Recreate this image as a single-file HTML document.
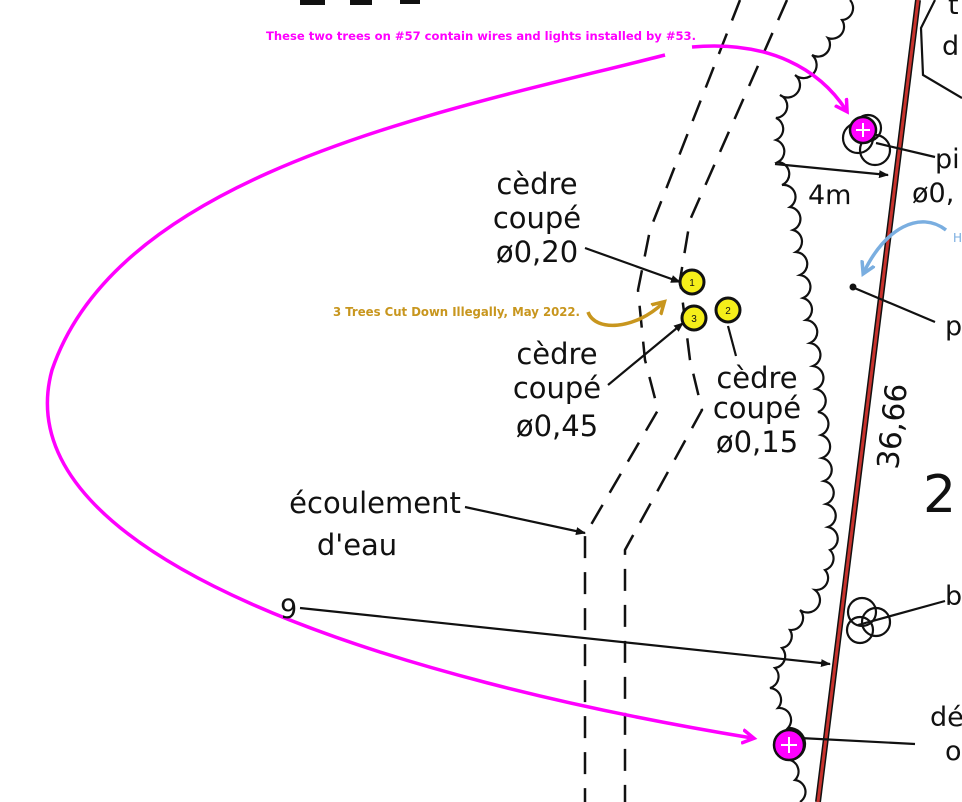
<!DOCTYPE html>
<html><head><meta charset="utf-8"><style>
html,body{margin:0;padding:0;background:#fff;}
svg{display:block;}
.t{font-family:"DejaVu Sans","Liberation Sans",sans-serif;fill:#111;}
</style></head><body>
<svg width="962" height="802" viewBox="0 0 962 802" xmlns="http://www.w3.org/2000/svg">
<defs>
<marker id="ab" markerWidth="10" markerHeight="8" refX="9" refY="4" orient="auto" markerUnits="userSpaceOnUse"><path d="M0,0 L10,4 L0,8 Z" fill="#111"/></marker>
<marker id="am" markerWidth="18" markerHeight="16" refX="10" refY="8" orient="auto" markerUnits="userSpaceOnUse"><path d="M0,1 L12,8 L0,15" fill="none" stroke="#f0f" stroke-width="3.5"/></marker>
<marker id="ag" markerWidth="18" markerHeight="16" refX="10" refY="8" orient="auto" markerUnits="userSpaceOnUse"><path d="M0,1 L12,8 L0,15" fill="none" stroke="#c8961e" stroke-width="3.5"/></marker>
<marker id="al" markerWidth="18" markerHeight="16" refX="10" refY="8" orient="auto" markerUnits="userSpaceOnUse"><path d="M0,1 L12,8 L0,15" fill="none" stroke="#7aaee0" stroke-width="3.5"/></marker>
</defs>
<rect x="300" y="0" width="25" height="5" fill="#111"/><rect x="350" y="0" width="22" height="5" fill="#111"/><rect x="400" y="0" width="20" height="4" fill="#111"/>
<g fill="none" stroke="#111" stroke-width="2.5" stroke-dasharray="22,14">
<path d="M740,0 L650,230 L638,290 L645,360 L658,410 L585,535 L585,802"/>
<path d="M787,0 L690,220 L680,280 L690,360 L702,410 L625,550 L625,802"/>
</g>
<path fill="none" stroke="#111" stroke-width="2.2" d="M850,0 A12 12 0 0 1 842,20 A12 12 0 0 1 828,38 A12 12 0 0 1 812,55 A12 12 0 0 1 795,75 A12 12 0 0 1 780,95 A12 12 0 0 1 776,118 A12 12 0 0 1 776,140 A12 12 0 0 1 778,162 A12 12 0 0 1 782,185 A12 12 0 0 1 790,207 A12 12 0 0 1 793,230 A12 12 0 0 1 796,252 A12 12 0 0 1 800,275 A12 12 0 0 1 803,298 A12 12 0 0 1 806,320 A12 12 0 0 1 810,343 A12 12 0 0 1 813,366 A12 12 0 0 1 816,389 A12 12 0 0 1 818,412 A12 12 0 0 1 821,435 A12 12 0 0 1 822,458 A12 12 0 0 1 824,481 A12 12 0 0 1 826,504 A12 12 0 0 1 828,527 A12 12 0 0 1 830,550 A12 12 0 0 1 825,570 A12 12 0 0 1 815,590 A12 12 0 0 1 800,610 A12 12 0 0 1 790,630 A12 12 0 0 1 782,648 A12 12 0 0 1 775,668 A12 12 0 0 1 770,688 A12 12 0 0 1 778,708 A12 12 0 0 1 788,728 A12 12 0 0 1 790,760 A12 12 0 0 1 795,780 A12 12 0 0 1 800,802"/>
<path d="M935,0 L921,28 L923,75 L962,98" fill="none" stroke="#111" stroke-width="2.2"/>
<line x1="918" y1="0" x2="818" y2="802" stroke="#111" stroke-width="6"/>
<line x1="918" y1="0" x2="818" y2="802" stroke="#c8322d" stroke-width="3"/>
<g stroke="#111" stroke-width="2.2" fill="none">
<line x1="585" y1="248" x2="680" y2="282" marker-end="url(#ab)"/>
<line x1="608" y1="385" x2="683" y2="323" marker-end="url(#ab)"/>
<line x1="736" y1="356" x2="728" y2="326"/>
<line x1="465" y1="507" x2="585" y2="533" marker-end="url(#ab)"/>
<line x1="300" y1="608" x2="830" y2="664" marker-end="url(#ab)"/>
<line x1="775" y1="164" x2="888" y2="175" marker-end="url(#ab)"/>
<line x1="935" y1="157" x2="876" y2="143"/>
<line x1="852" y1="287" x2="935" y2="322"/>
<line x1="945" y1="601" x2="858" y2="625"/>
<line x1="915" y1="744" x2="800" y2="738"/>
</g>
<circle cx="853" cy="287" r="3.5" fill="#111"/>
<g fill="none" stroke="#111" stroke-width="2.2">
<circle cx="858" cy="138" r="15"/><circle cx="875" cy="150" r="15"/><circle cx="868" cy="128" r="13"/>
<circle cx="862" cy="612" r="14"/><circle cx="860" cy="630" r="13"/><circle cx="876" cy="622" r="14"/>
</g>
<g stroke="#111" stroke-width="3" fill="#f5ee1a">
<circle cx="692" cy="282" r="12"/><circle cx="728" cy="310" r="12"/><circle cx="694" cy="318" r="12"/>
</g>
<g font-family="Liberation Sans,sans-serif" font-size="10" fill="#111" text-anchor="middle">
<text x="692" y="286">1</text><text x="728" y="314">2</text><text x="694" y="322">3</text>
</g>
<g stroke="#111" stroke-width="2.5" fill="#f0f">
<circle cx="863" cy="130" r="13"/><circle cx="789" cy="745" r="15"/>
</g>
<g stroke="#fff" stroke-width="2">
<line x1="856" y1="130" x2="870" y2="130"/><line x1="863" y1="123" x2="863" y2="137"/>
<line x1="781" y1="745" x2="797" y2="745"/><line x1="789" y1="737" x2="789" y2="753"/>
</g>
<path d="M665,55 C450,110 120,170 52,370 C0,560 400,680 752,738" fill="none" stroke="#f0f" stroke-width="3.5" marker-end="url(#am)"/>
<path d="M692,47 C770,40 820,70 846,110" fill="none" stroke="#f0f" stroke-width="3.5" marker-end="url(#am)"/>
<text x="266" y="40" font-family="DejaVu Sans,sans-serif" font-weight="bold" font-size="11.6" fill="#f0f" textLength="430" lengthAdjust="spacingAndGlyphs">These two trees on #57 contain wires and lights installed by #53.</text>
<path d="M588,312 C595,332 635,330 663,303" fill="none" stroke="#c8961e" stroke-width="3.5" marker-end="url(#ag)"/>
<text x="333" y="316" font-family="DejaVu Sans,sans-serif" font-weight="bold" font-size="12" fill="#c8961e" textLength="247" lengthAdjust="spacingAndGlyphs">3 Trees Cut Down Illegally, May 2022.</text>
<path d="M946,230 C920,210 885,228 864,272" fill="none" stroke="#7aaee0" stroke-width="3.5" marker-end="url(#al)"/>
<text x="953" y="242" font-family="DejaVu Sans,sans-serif" font-size="12" fill="#7aaee0">H</text>
<g class="t" font-size="29" text-anchor="middle">
<text x="537" y="194">cèdre</text><text x="537" y="228">coupé</text><text x="537" y="262">ø0,20</text>
<text x="557" y="364">cèdre</text><text x="557" y="398">coupé</text><text x="557" y="436">ø0,45</text>
<text x="757" y="388">cèdre</text><text x="757" y="418">coupé</text><text x="757" y="452">ø0,15</text>
<text x="375" y="513">écoulement</text><text x="357" y="555">d'eau</text>
</g>
<g class="t" font-size="27">
<text x="808" y="204">4m</text>
<text x="280" y="618">9</text>
<text x="935" y="168">pi</text>
<text x="912" y="202">ø0,</text>
<text x="945" y="335">p</text>
<text x="945" y="605">b</text>
<text x="930" y="726">dé</text>
<text x="945" y="760">o</text>
<text x="942" y="55">d</text>
<text x="948" y="14">t</text>
</g>
<text class="t" font-size="52" x="923" y="512">2</text>
<text class="t" font-size="30" transform="translate(898,470) rotate(-84)">36,66</text>
</svg>
</body></html>
